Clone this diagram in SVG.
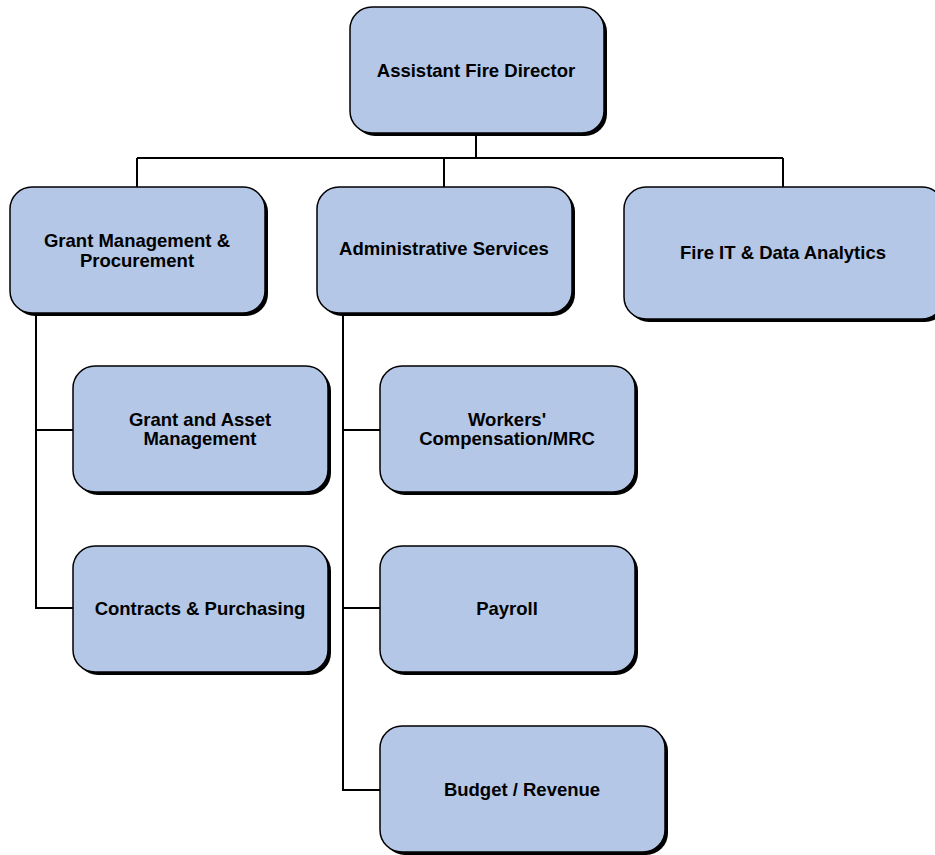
<svg xmlns="http://www.w3.org/2000/svg" width="935" height="855" viewBox="0 0 935 855">
<style>
.sh{fill:#000}
.bx{fill:#b4c7e7;stroke:#000;stroke-width:1.5}
.t{font-family:"Liberation Sans",Arial,sans-serif;font-weight:bold;font-size:18.5px;fill:#000;text-anchor:middle;dominant-baseline:central}
.c{fill:none;stroke:#000;stroke-width:2}
</style>
<rect width="935" height="855" fill="#fff"/>
<g id="connectors">
<path class="c" d="M476 132V158M137 158H783M137 158V187M444 158V187M783 158V187"/>
<path class="c" d="M36 313V608H73M36 430H73"/>
<path class="c" d="M343 313V790H380M343 430H380M343 608H380"/>
</g>
<g id="n-director">
<rect class="sh" x="353" y="10" width="254" height="126" rx="22"/>
<rect class="bx" x="350" y="7" width="254" height="126" rx="22"/>
<text class="t" x="476" y="70">Assistant Fire Director</text>
</g>
<g id="n-grant">
<rect class="sh" x="13" y="190" width="255" height="126" rx="22"/>
<rect class="bx" x="10" y="187" width="255" height="126" rx="22"/>
<text class="t" x="137" y="240">Grant Management &amp;</text>
<text class="t" x="137" y="260">Procurement</text>
</g>
<g id="n-admin">
<rect class="sh" x="320" y="190" width="255" height="126" rx="22"/>
<rect class="bx" x="317" y="187" width="255" height="126" rx="22"/>
<text class="t" x="444" y="248">Administrative Services</text>
</g>
<g id="n-fireit">
<rect class="sh" x="627" y="190" width="320" height="132" rx="22"/>
<rect class="bx" x="624" y="187" width="320" height="132" rx="22"/>
<text class="t" x="783" y="252">Fire IT &amp; Data Analytics</text>
</g>
<g id="n-gam">
<rect class="sh" x="76" y="369" width="255" height="126" rx="22"/>
<rect class="bx" x="73" y="366" width="255" height="126" rx="22"/>
<text class="t" x="200" y="419">Grant and Asset</text>
<text class="t" x="200" y="438">Management</text>
</g>
<g id="n-contracts">
<rect class="sh" x="76" y="549" width="255" height="126" rx="22"/>
<rect class="bx" x="73" y="546" width="255" height="126" rx="22"/>
<text class="t" x="200" y="608">Contracts &amp; Purchasing</text>
</g>
<g id="n-workers">
<rect class="sh" x="383" y="369" width="255" height="126" rx="22"/>
<rect class="bx" x="380" y="366" width="255" height="126" rx="22"/>
<text class="t" x="507" y="419">Workers'</text>
<text class="t" x="507" y="438">Compensation/MRC</text>
</g>
<g id="n-payroll">
<rect class="sh" x="383" y="549" width="255" height="126" rx="22"/>
<rect class="bx" x="380" y="546" width="255" height="126" rx="22"/>
<text class="t" x="507" y="608">Payroll</text>
</g>
<g id="n-budget">
<rect class="sh" x="383" y="729" width="285" height="126" rx="22"/>
<rect class="bx" x="380" y="726" width="285" height="126" rx="22"/>
<text class="t" x="522" y="789">Budget / Revenue</text>
</g>
</svg>
